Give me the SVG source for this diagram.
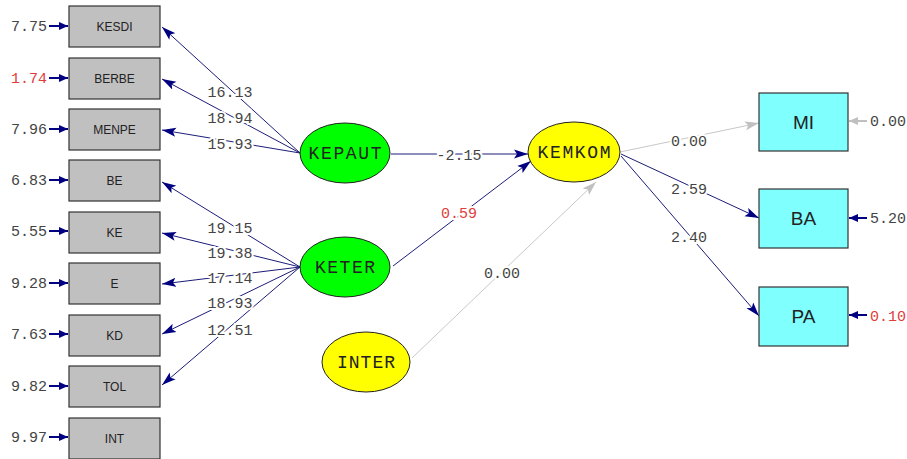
<svg xmlns="http://www.w3.org/2000/svg" width="907" height="459" viewBox="0 0 907 459">
<style>
.ob{fill:#c0c0c0;stroke:#333;stroke-width:1.2}
.rb{fill:#80ffff;stroke:#333;stroke-width:1.2}
.lat{stroke:#222;stroke-width:1}
.bl{font-family:"Liberation Sans",Arial,sans-serif;font-size:12px;fill:#222;text-anchor:middle}
.rl{font-family:"Liberation Sans",Arial,sans-serif;font-size:19px;fill:#222;text-anchor:middle}
.el{font-family:"Liberation Mono","Courier New",monospace;font-size:18px;fill:#222;text-anchor:middle}
.num{font-family:"Liberation Mono","Courier New",monospace;font-size:15px;fill:#444}
.lab{font-family:"Liberation Mono","Courier New",monospace;font-size:15px;fill:#444;text-anchor:middle;stroke:#fff;stroke-width:4;paint-order:stroke}
.red{fill:#e03c3c}
.p{stroke:#1c1c78;stroke-width:1;fill:none;marker-end:url(#a)}
.g{stroke:#c8c8c8;stroke-width:1;fill:none;marker-end:url(#ag)}
.e{stroke:#000080;stroke-width:2;fill:none;marker-end:url(#s)}
.eg{stroke:#c0c0c0;stroke-width:2;fill:none;marker-end:url(#sg)}
</style>
<defs>
<marker id="a" markerUnits="userSpaceOnUse" markerWidth="16" markerHeight="10" refX="14" refY="5" orient="auto"><path d="M0,0.5 L14,5 L0,9.5 L3,5 z" fill="#000080"/></marker>
<marker id="ag" markerUnits="userSpaceOnUse" markerWidth="16" markerHeight="10" refX="14" refY="5" orient="auto"><path d="M0,0.5 L14,5 L0,9.5 L3,5 z" fill="#c0c0c0"/></marker>
<marker id="s" markerUnits="userSpaceOnUse" markerWidth="10" markerHeight="8" refX="9" refY="4" orient="auto"><path d="M0,0 L9,4 L0,8 z" fill="#000080"/></marker>
<marker id="sg" markerUnits="userSpaceOnUse" markerWidth="10" markerHeight="8" refX="9" refY="4" orient="auto"><path d="M0,0 L9,4 L0,8 z" fill="#c0c0c0"/></marker>
</defs>
<rect width="907" height="459" fill="#fff"/>
<g id="connectors">
<line class="p" x1="300" y1="153" x2="162" y2="27"/>
<line class="p" x1="300" y1="153" x2="162" y2="79"/>
<line class="p" x1="300" y1="153" x2="162" y2="130"/>
<line class="p" x1="300" y1="267" x2="162" y2="182"/>
<line class="p" x1="300" y1="267" x2="162" y2="233"/>
<line class="p" x1="300" y1="267" x2="162" y2="284"/>
<line class="p" x1="300" y1="267" x2="162" y2="334"/>
<line class="p" x1="300" y1="267" x2="162" y2="385"/>
<line class="p" x1="391" y1="154" x2="528" y2="154"/>
<line class="p" x1="393" y1="266" x2="531" y2="161"/>
<line class="g" x1="412" y1="358" x2="596" y2="182"/>
<line class="g" x1="620" y1="152" x2="759" y2="123"/>
<line class="p" x1="621" y1="154" x2="759" y2="218"/>
<line class="p" x1="621" y1="156" x2="759" y2="316"/>
<line class="e" x1="49" y1="26" x2="68" y2="26"/>
<line class="e" x1="49" y1="78" x2="68" y2="78"/>
<line class="e" x1="49" y1="129" x2="68" y2="129"/>
<line class="e" x1="49" y1="180" x2="68" y2="180"/>
<line class="e" x1="49" y1="231" x2="68" y2="231"/>
<line class="e" x1="49" y1="283" x2="68" y2="283"/>
<line class="e" x1="49" y1="334" x2="68" y2="334"/>
<line class="e" x1="49" y1="386" x2="68" y2="386"/>
<line class="e" x1="49" y1="437" x2="68" y2="437"/>
<line class="eg" x1="867" y1="121" x2="849" y2="121"/>
<line class="e" x1="867" y1="218" x2="849" y2="218"/>
<line class="e" x1="867" y1="315" x2="849" y2="315"/>
<text class="lab" x="230" y="97">16.13</text>
<text class="lab" x="230" y="123">18.94</text>
<text class="lab" x="230" y="149">15.93</text>
<text class="lab" x="230" y="233">19.15</text>
<text class="lab" x="230" y="258">19.38</text>
<text class="lab" x="230" y="283">17.14</text>
<text class="lab" x="230" y="308">18.93</text>
<text class="lab" x="230" y="335">12.51</text>
<text class="lab" x="459" y="160">-2.15</text>
<text class="lab red" x="459" y="218">0.59</text>
<text class="lab" x="502" y="278">0.00</text>
<text class="lab" x="689" y="146">0.00</text>
<text class="lab" x="689" y="194">2.59</text>
<text class="lab" x="689" y="242">2.40</text>
</g>
<g id="KESDI"><rect class="ob" x="69" y="6" width="91" height="41"/><text class="bl" x="114.5" y="31">KESDI</text><text class="num" x="11" y="31">7.75</text></g>
<g id="BERBE"><rect class="ob" x="69" y="58" width="91" height="41"/><text class="bl" x="114.5" y="83">BERBE</text><text class="num red" x="11" y="83">1.74</text></g>
<g id="MENPE"><rect class="ob" x="69" y="109" width="91" height="41"/><text class="bl" x="114.5" y="134">MENPE</text><text class="num" x="11" y="134">7.96</text></g>
<g id="BE"><rect class="ob" x="69" y="160" width="91" height="41"/><text class="bl" x="114.5" y="185">BE</text><text class="num" x="11" y="185">6.83</text></g>
<g id="KE"><rect class="ob" x="69" y="212" width="91" height="41"/><text class="bl" x="114.5" y="237">KE</text><text class="num" x="11" y="236">5.55</text></g>
<g id="E"><rect class="ob" x="69" y="263" width="91" height="41"/><text class="bl" x="114.5" y="288">E</text><text class="num" x="11" y="288">9.28</text></g>
<g id="KD"><rect class="ob" x="69" y="315" width="91" height="41"/><text class="bl" x="114.5" y="340">KD</text><text class="num" x="11" y="339">7.63</text></g>
<g id="TOL"><rect class="ob" x="69" y="366" width="91" height="41"/><text class="bl" x="114.5" y="391">TOL</text><text class="num" x="11" y="391">9.82</text></g>
<g id="INT"><rect class="ob" x="69" y="418" width="91" height="41"/><text class="bl" x="114.5" y="443">INT</text><text class="num" x="11" y="442">9.97</text></g>
<g id="KEPAUT"><ellipse class="lat" cx="345" cy="153" rx="45" ry="30" fill="#00ff00"/><text class="el" x="345" y="159" textLength="73" lengthAdjust="spacing">KEPAUT</text></g>
<g id="KETER"><ellipse class="lat" cx="345" cy="267" rx="45" ry="30" fill="#00ff00"/><text class="el" x="345" y="273" textLength="60" lengthAdjust="spacing">KETER</text></g>
<g id="KEMKOM"><ellipse class="lat" cx="574" cy="152" rx="46" ry="30" fill="#ffff00"/><text class="el" x="574" y="158" textLength="73" lengthAdjust="spacing">KEMKOM</text></g>
<g id="INTER"><ellipse class="lat" cx="366" cy="362" rx="44" ry="30" fill="#ffff00"/><text class="el" x="366" y="368" textLength="58" lengthAdjust="spacing">INTER</text></g>
<g id="MI"><rect class="rb" x="759" y="93" width="89" height="58"/><text class="rl" x="803.5" y="129">MI</text><text class="num" x="870" y="126">0.00</text></g>
<g id="BA"><rect class="rb" x="759" y="189" width="89" height="59"/><text class="rl" x="803.5" y="225">BA</text><text class="num" x="870" y="223">5.20</text></g>
<g id="PA"><rect class="rb" x="759" y="287" width="89" height="59"/><text class="rl" x="803.5" y="323">PA</text><text class="num red" x="870" y="321">0.10</text></g>
</svg>
